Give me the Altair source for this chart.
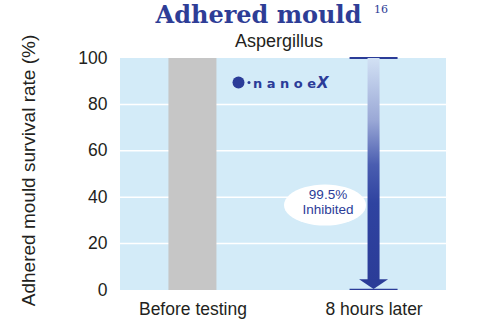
import altair as alt
import pandas as pd
import numpy as np

# ---- data ----
categories = ["Before testing", "8 hours later"]
survival_rate = [100, 0.5]
bar_colors = ["#c6c6c6", "#2b3c98"]
start_level = [100]
arrow_top = [100]
arrow_bottom = [4]
arrowhead_level = [2.6]
grid_values = [20, 40, 60, 80]
y_ticks = [0, 20, 40, 60, 80, 100]
callout_lines = ["99.5%", "Inhibited"]
callout_levels = [40.9, 34.5]
ellipse_level = [36.6]
logo_level = [89.4]

DARK = "#2b3c98"
INK = "#231f20"
SANS = "Liberation Sans"

df_bars = pd.DataFrame({"cat": categories, "val": survival_rate, "col": bar_colors})
df_after = pd.DataFrame({"cat": [categories[1]], "val": start_level})
df_arrow = pd.DataFrame({"cat": [categories[1]], "top": arrow_top, "bot": arrow_bottom})
df_head = pd.DataFrame({"cat": [categories[1]], "lvl": arrowhead_level})
df_grid = pd.DataFrame({"g": grid_values})
df_callout = pd.DataFrame({"t": callout_lines, "lvl": callout_levels})
df_one = pd.DataFrame({"k": [0]})

y_scale = alt.Scale(domain=[0, 100], nice=False, zero=True)
x_enc = alt.X(
    "cat:N",
    sort=categories,
    scale=alt.Scale(type="point", padding=0.4),
    axis=alt.Axis(
        title=None, labelAngle=0, ticks=False, domain=False, grid=False,
        labelFont=SANS, labelFontSize=17.5, labelColor=INK, labelPadding=10,
    ),
)
y_axis = alt.Axis(
    values=y_ticks, ticks=False, domain=False, grid=False,
    labelFont=SANS, labelFontSize=17.5, labelColor=INK, labelPadding=13,
    title="Adhered mould survival rate (%)", titleFont=SANS, titleFontSize=19,
    titleFontWeight="normal", titleColor=INK, titleX=-82, titleY=112,
    titleAngle=-90, titleAlign="center", titleBaseline="bottom",
)

grid = alt.Chart(df_grid).mark_rule(color="white", strokeWidth=1.5).encode(
    y=alt.Y("g:Q", scale=y_scale, axis=y_axis)
)

bars = alt.Chart(df_bars).mark_bar(size=48).encode(
    x=x_enc,
    y=alt.Y("val:Q", scale=y_scale),
    color=alt.Color("col:N", scale=None),
)

top_marker = alt.Chart(df_after).mark_tick(color=DARK, thickness=2, size=48, opacity=1).encode(
    x=x_enc, y=alt.Y("val:Q", scale=y_scale)
)

gradient = alt.Gradient(
    gradient="linear",
    stops=[
        alt.GradientStop(color="#d2e1f4", offset=0),
        alt.GradientStop(color="#9aa8d6", offset=0.28),
        alt.GradientStop(color="#4a5db0", offset=0.48),
        alt.GradientStop(color="#2f43a0", offset=0.65),
        alt.GradientStop(color=DARK, offset=1),
    ],
    x1=0, x2=0, y1=0, y2=1,
)
shaft = alt.Chart(df_arrow).mark_bar(size=12, color=gradient).encode(
    x=x_enc, y=alt.Y("top:Q", scale=y_scale), y2="bot:Q"
)

head = alt.Chart(df_head).mark_point(
    shape="M -1 -0.33 L 1 -0.33 L 0 0.35 Z", size=841, filled=True,
    color=DARK, opacity=1, strokeWidth=0,
).encode(x=x_enc, y=alt.Y("lvl:Q", scale=y_scale))

# ellipse shape path (geometry only)
ang = np.linspace(0, 2 * np.pi, 49)[:-1]
ell_path = "M " + " L ".join(f"{np.cos(a):.4f} {0.5 * np.sin(a):.4f}" for a in ang) + " Z"
ellipse = alt.Chart(pd.DataFrame({"lvl": ellipse_level})).mark_point(
    shape=ell_path, size=82 * 82, filled=True, color="white", opacity=1, strokeWidth=0
).encode(x=alt.value(205), y=alt.Y("lvl:Q", scale=y_scale))

callout = alt.Chart(df_callout).mark_text(
    font=SANS, fontSize=13.5, color=DARK, align="center", baseline="middle"
).encode(x=alt.value(208), y=alt.Y("lvl:Q", scale=y_scale), text="t:N")

# logo
df_logo = pd.DataFrame({"lvl": logo_level})
logo_blob = alt.Chart(df_logo).mark_point(
    shape="circle", size=144, filled=True, color=DARK, opacity=1, strokeWidth=0
).encode(x=alt.value(118.5), y=alt.Y("lvl:Q", scale=y_scale))
logo_dot = alt.Chart(df_logo).mark_point(
    shape="circle", size=9, filled=True, color=DARK, opacity=1, strokeWidth=0
).encode(x=alt.value(129), y=alt.Y("lvl:Q", scale=y_scale))
logo_word = alt.Chart(df_logo).mark_text(
    text="n a n o e", font="DejaVu Sans", fontWeight="bold", fontSize=13,
    color=DARK, align="left", baseline="middle", dy=1,
).encode(x=alt.value(133), y=alt.Y("lvl:Q", scale=y_scale))
logo_x = alt.Chart(df_logo).mark_text(
    text="X", font="DejaVu Sans", fontWeight="bold", fontStyle="italic", fontSize=15,
    color=DARK, align="left", baseline="middle",
).encode(x=alt.value(197), y=alt.Y("lvl:Q", scale=y_scale))

# titles
title = alt.Chart(df_one).mark_text(
    text="Adhered mould", font="DejaVu Serif", fontWeight="bold", fontSize=24,
    color="#2e3d96", align="center", baseline="alphabetic",
).encode(x=alt.value(138.5), y=alt.value(-35.5))
title_note = alt.Chart(df_one).mark_text(
    text="16", font="DejaVu Serif", fontSize=11, color="#2e3d96",
    align="center", baseline="alphabetic",
).encode(x=alt.value(261), y=alt.value(-45))
subtitle = alt.Chart(df_one).mark_text(
    text="Aspergillus", font=SANS, fontSize=18, color=INK,
    align="center", baseline="alphabetic",
).encode(x=alt.value(159), y=alt.value(-11))

chart = alt.layer(
    grid, bars, top_marker, shaft, head, ellipse, callout,
    logo_blob, logo_dot, logo_word, logo_x, title, title_note, subtitle,
).properties(
    width=326, height=232,
    padding={"left": 120, "top": 58, "right": 32, "bottom": 34},
    autosize=alt.AutoSizeParams(type="none"),
    background="white",
).configure_view(fill="#d3ebf8", strokeWidth=0)

chart.save("out.html", embed_options={"renderer": "svg", "actions": False})
